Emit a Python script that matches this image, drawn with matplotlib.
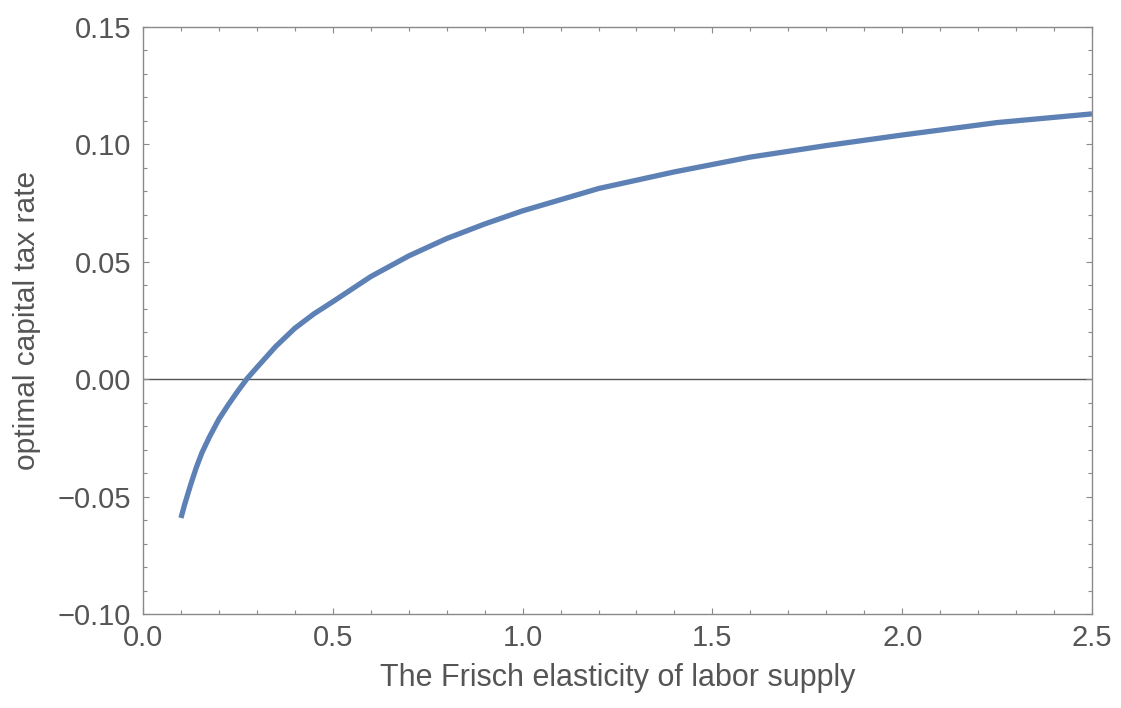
import numpy as np
import matplotlib
matplotlib.use("Agg")
import matplotlib.pyplot as plt
from matplotlib.ticker import MultipleLocator

# values
frisch = [0.10, 0.11, 0.125, 0.14, 0.155, 0.175, 0.20, 0.225, 0.25, 0.275,
          0.30, 0.35, 0.40, 0.45, 0.50, 0.60, 0.70, 0.80, 0.90, 1.00,
          1.20, 1.40, 1.60, 1.80, 2.00, 2.25, 2.50]
tax_rate = [-0.0591, -0.0532, -0.0452, -0.0378, -0.0314, -0.0246, -0.0170,
            -0.0108, -0.0050, 0.0004, 0.0050, 0.0140, 0.0217, 0.0278,
            0.0330, 0.0437, 0.0525, 0.0599, 0.0661, 0.0717, 0.0812,
            0.0883, 0.0946, 0.0995, 0.1040, 0.1093, 0.1130]
xticks = [0.0, 0.5, 1.0, 1.5, 2.0, 2.5]
yticks = [-0.10, -0.05, 0.00, 0.05, 0.10, 0.15]

plt.rcParams['font.family'] = ['Liberation Sans', 'DejaVu Sans']

line_col = (0.368417, 0.506779, 0.709798)
frame_col = '#8a8a8a'
text_col = '#555555'

fig = plt.figure(figsize=(11.21, 7.08), dpi=100)
ax = fig.add_axes([143 / 1121, 94 / 708, 949 / 1121, 587 / 708])

ax.axhline(0, color='#555555', lw=1.0, zorder=1)
ax.plot(frisch, tax_rate, color=line_col, lw=3.8, solid_capstyle='butt', zorder=2)

ax.set_xlim(0, 2.5)
ax.set_ylim(-0.10, 0.15)
ax.set_xticks(xticks)
ax.set_yticks(yticks)
ax.set_xticklabels(['%.1f' % v for v in xticks])
ax.set_yticklabels(['%.2f' % v if v >= 0 else '\u2212%.2f' % abs(v) for v in yticks])
ax.xaxis.set_minor_locator(MultipleLocator(0.1))
ax.yaxis.set_minor_locator(MultipleLocator(0.01))

for s in ax.spines.values():
    s.set_color(frame_col)
    s.set_linewidth(1.0)

ax.tick_params(which='both', direction='in', top=True, right=True,
               color=frame_col, width=0.8)
ax.tick_params(which='major', length=4.5, labelsize=21, labelcolor=text_col)
ax.tick_params(which='minor', length=2.8)
ax.tick_params(axis='x', which='major', pad=7.5)
ax.tick_params(axis='y', which='major', pad=8.5)

ax.set_xlabel('The Frisch elasticity of labor supply', fontsize=22, color=text_col)
ax.xaxis.label.set_va('baseline')
ax.xaxis.set_label_coords(0.5, (22 - 94) / 587)

ax.set_ylabel('optimal capital tax rate', fontsize=21.5, color=text_col)
ax.yaxis.label.set_va('center')
ax.yaxis.set_label_coords((27 - 143) / 949, 0.5)

fig.savefig('out.png', dpi=100)
